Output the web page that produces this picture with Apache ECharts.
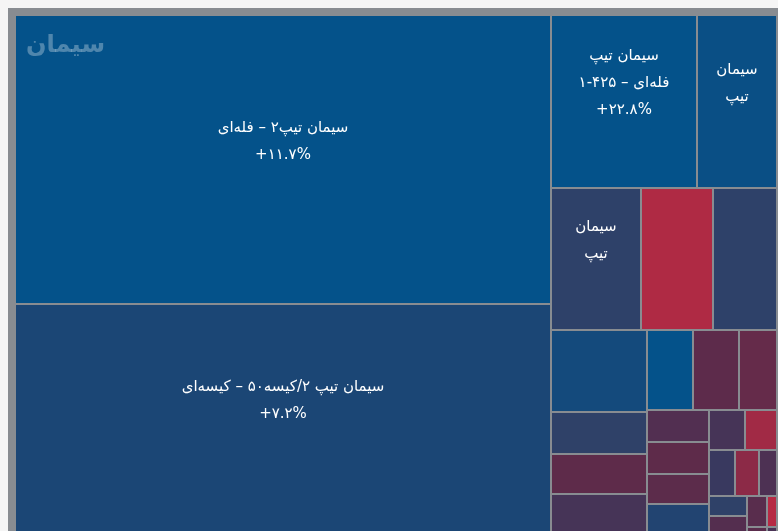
<!DOCTYPE html>
<html dir="ltr">
<head>
<meta charset="utf-8">
<title>سیمان</title>
<script src="https://cdn.jsdelivr.net/npm/echarts@6/dist/echarts.min.js"></script>
<style>
  html, body { margin: 0; padding: 0; background: #f5f5f5; direction: ltr; }
  #chart { width: 778px; height: 531px; direction: ltr; }
</style>
</head>
<body>
<div id="chart"></div>
<script>
// Sector shown in this map
const sectorName = 'سیمان';

// Products of the sector (empty name = unnamed small product)
const tileNames = [
  'سیمان تیپ۲ – فله‌ای',
  'سیمان تیپ ۲/کیسه۵۰ – کیسه‌ای',
  'سیمان تیپ\n۱-۴۲۵ – فله‌ای',
  'سیمان\nتیپ',
  'سیمان\nتیپ',
  '', '', '', '', '', '', '', '', '', '', '', '', '', '', '', '', '', '', '', '', '', '', '', ''
];

// Trade value of each product (tile size)
const tradeValues = [
  154904, 122744, 25258, 13840, 12780, 10224, 9088, 7872, 4032, 3840,
  3744, 3680, 3680, 3040, 1984, 1984, 1860, 1798, 1440, 1280,
  1196, 1104, 828, 760, 646, 620, 310, 120, 60
];

// Price change in percent (tile colour)
const changes = [
  11.7, 7.2, 22.8, 9.3, 2.0, -7.6, 2.0, 8.1, 1.9, -3.0,
  -1.0, -2.9, 10.4, -3.4, -3.0, -2.0, -2.8, 5.5, -1.0, -6.8,
  0.2, -5.6, -1.6, 1.9, -2.2, -2.6, -8.1, -2.7, -1.3
];

// Only large tiles print their change figure
const changeLabelMinValue = 20000;

// Colour ramp: red for losses, indigo near zero, blue for gains
const rampStops = [
  [-8, [182, 42, 68]],
  [-3, [94, 43, 74]],
  [0, [58, 56, 94]],
  [2, [46, 65, 105]],
  [7, [29, 69, 116]],
  [10, [4, 82, 138]]
];

function changeColor(c) {
  if (c <= rampStops[0][0]) return rgb(rampStops[0][1]);
  const last = rampStops[rampStops.length - 1];
  if (c >= last[0]) return rgb(last[1]);
  for (let i = 1; i < rampStops.length; i++) {
    const [x1, c1] = rampStops[i];
    const [x0, c0] = rampStops[i - 1];
    if (c <= x1) {
      const t = (c - x0) / (x1 - x0);
      return rgb(c0.map((v, k) => v + (c1[k] - v) * t));
    }
  }
}
function rgb(a) {
  return 'rgb(' + a.map(v => Math.round(v)).join(',') + ')';
}

const faDigits = '۰۱۲۳۴۵۶۷۸۹';
function toFa(s) {
  return s.replace(/\d/g, d => faDigits[d]);
}
// Left-to-right mark keeps the sign on the left and % on the right
function formatChange(c) {
  return '\u200E' + (c > 0 ? '+' : c < 0 ? '-' : '') + toFa(Math.abs(c).toFixed(1)) + '%\u200E';
}

const fontFamily = '"DejaVu Sans", "Noto Sans", sans-serif';

const seriesData = tileNames.map((name, i) => ({
  name: name,
  value: tradeValues[i],
  change: changes[i],
  itemStyle: { color: changeColor(changes[i]) }
}));

const chart = echarts.init(document.getElementById('chart'), null, { renderer: 'canvas' });

chart.setOption({
  backgroundColor: '#f5f5f5',
  animation: false,
  title: {
    text: sectorName,
    left: 26,
    top: 34,
    padding: 0,
    textStyle: {
      color: 'rgba(255,255,255,0.3)',
      fontSize: 24,
      fontWeight: 'bold',
      fontFamily: fontFamily
    }
  },
  series: [{
    type: 'treemap',
    left: 8,
    top: 8,
    width: 776,
    height: 532,
    roam: false,
    nodeClick: false,
    visibleMin: 0,
    breadcrumb: { show: false },
    label: {
      show: true,
      color: '#fff',
      fontSize: 15,
      lineHeight: 27,
      fontFamily: fontFamily,
      offset: [0, -18],
      formatter: p => {
        const d = p.data;
        if (!d.name) return '';
        return d.value >= changeLabelMinValue ? d.name + '\n' + formatChange(d.change) : d.name;
      }
    },
    levels: [
      { itemStyle: { borderColor: '#888c91', borderWidth: 8, gapWidth: 2 } },
      { itemStyle: { borderWidth: 0, gapWidth: 0 } }
    ],
    data: seriesData
  }]
});
</script>
</body>
</html>
